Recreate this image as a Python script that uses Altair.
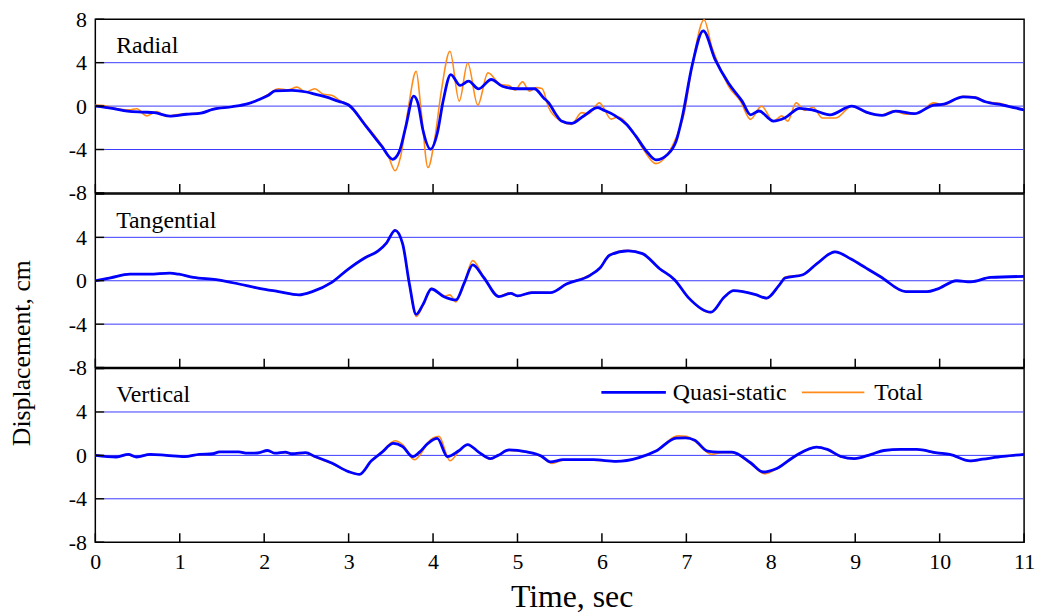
import altair as alt
import pandas as pd

FONT = "Liberation Serif"
BLUE = "#0000ff"
ORANGE = "#ff8c1a"
GRID = "#3a3aff"

panel_names = ["Radial", "Tangential", "Vertical"]
series_names = ["Quasi-static", "Total"]
x_ticks = list(range(0, 12))
y_ticks = [-8, -4, 0, 4, 8]
grid_vals = [-4, 0, 4]

# ---------------- Radial ----------------
radial_qs_t = [0, 0.2, 0.38, 0.55, 0.7, 0.88, 1.08, 1.25, 1.39, 1.62, 1.8, 1.94, 2.05, 2.13, 2.33, 2.5,
               2.6, 2.75, 2.84, 2.92, 3.0, 3.2, 3.39, 3.52, 3.6, 3.68, 3.77, 3.82, 3.88, 3.97, 4.05,
               4.12, 4.21, 4.32, 4.42, 4.54, 4.69, 4.82, 5.0, 5.2, 5.31, 5.37, 5.45, 5.52, 5.64, 5.78,
               5.95, 6.03, 6.15, 6.29, 6.4, 6.54, 6.64, 6.78, 6.88, 6.95, 7.07, 7.2, 7.34, 7.5, 7.66,
               7.76, 7.86, 8.03, 8.17, 8.34, 8.5, 8.7, 8.96, 9.13, 9.32, 9.48, 9.7, 9.93, 10.03,
               10.28, 10.42, 10.54, 10.75, 11.0]
radial_qs_v = [0, -0.2, -0.46, -0.55, -0.6, -0.92, -0.75, -0.65, -0.3, -0.06, 0.2, 0.6, 1.0, 1.4, 1.45, 1.3,
               1.1, 0.8, 0.55, 0.35, 0.1, -1.8, -3.67, -4.9, -4.2, -1.8, 0.92, 0.3, -2.2, -3.97, -2.5,
               0.5, 2.9, 1.9, 2.3, 1.59, 2.45, 1.83, 1.6, 1.6, 0.75, 0.3, -0.7, -1.38, -1.6, -0.93,
               -0.15, -0.4, -0.85, -1.68, -2.75, -4.28, -4.95, -4.43, -3.2, -1.07, 3.8, 6.94, 4.3, 2.1, 0.46,
               -0.8, -0.45, -1.38, -1.07, -0.2, -0.37, -0.8, 0.0, -0.55, -0.85, -0.46, -0.7, 0.1, 0.15,
               0.85, 0.78, 0.4, 0.1, -0.35]
radial_tot_t = [0, 0.1, 0.3, 0.4, 0.49, 0.61, 0.73, 0.84, 0.95, 1.1, 1.25, 1.4, 1.62, 1.8, 1.94, 2.05,
                2.17, 2.28, 2.39, 2.49, 2.6, 2.7, 2.8, 2.9, 3.0, 3.2, 3.39, 3.47, 3.55, 3.62, 3.7, 3.8,
                3.86, 3.94, 4.02, 4.1, 4.2, 4.31, 4.41, 4.53, 4.65, 4.8, 4.9, 4.97, 5.06, 5.14, 5.22,
                5.29, 5.37, 5.5, 5.64, 5.76, 5.84, 5.97, 6.11, 6.19, 6.37, 6.5, 6.64, 6.78, 6.88, 6.97,
                7.08, 7.21, 7.3, 7.38, 7.5, 7.64, 7.76, 7.89, 8.03, 8.13, 8.2, 8.3, 8.4, 8.5, 8.61, 8.77,
                8.96, 9.13, 9.3, 9.45, 9.6, 9.75, 9.93, 10.05, 10.28, 10.42, 10.55, 10.75, 10.9, 11.0]
radial_tot_v = [0.1, 0.05, -0.3, -0.35, -0.25, -0.9, -0.5, -0.95, -0.8, -0.7, -0.65, -0.25, -0.05, 0.2, 0.6, 1.1,
                1.6, 1.5, 1.75, 1.3, 1.6, 1.1, 1.0, 0.5, 0.15, -1.7, -3.6, -4.6, -5.96, -4.5, -0.5, 3.2,
                -0.5, -5.66, -3.0, 1.5, 5.05, 0.46, 3.97, 0.09, 3.06, 2.0, 1.9, 1.47, 2.23, 1.38, 1.7,
                1.62, -0.15, -1.3, -1.68, -0.6, -0.7, 0.3, -1.2, -1.0, -2.45, -4.1, -5.3, -4.4, -2.9, -0.8,
                4.2, 7.96, 5.5, 3.85, 1.83, 0.46, -1.22, 0.0, -1.4, -0.9, -1.4, 0.3, -0.4, -0.1, -1.1, -1.1,
                0.0, -0.6, -0.85, -0.45, -0.75, -0.65, 0.3, 0.1, 0.9, 0.85, 0.4, 0.2, -0.2, -0.25]

# ---------------- Tangential ----------------
tang_qs_t = [0, 0.18, 0.41, 0.64, 0.88, 0.99, 1.16, 1.43, 1.7, 1.94, 2.17, 2.41, 2.57, 2.8, 3.0, 3.19,
             3.35, 3.45, 3.55, 3.64, 3.72, 3.8, 3.88, 3.98, 4.13, 4.27, 4.37, 4.47, 4.6, 4.78, 4.92, 5.0,
             5.17, 5.39, 5.58, 5.86, 5.98, 6.09, 6.31, 6.48, 6.68, 6.86, 7.03, 7.29, 7.45, 7.56, 7.82,
             7.95, 8.1, 8.17, 8.38, 8.55, 8.76, 8.95, 9.13, 9.3, 9.6, 9.85, 9.97, 10.2, 10.37, 10.6, 11.0]
tang_qs_v = [0, 0.27, 0.6, 0.6, 0.7, 0.6, 0.3, 0.1, -0.3, -0.7, -1.0, -1.3, -1.0, -0.15, 1.1, 2.1,
             2.75, 3.5, 4.65, 3.4, -0.3, -3.1, -2.2, -0.76, -1.47, -1.77, -0.2, 1.47, 0.3, -1.47, -1.16, -1.4,
             -1.1, -1.1, -0.3, 0.5, 1.2, 2.35, 2.75, 2.5, 1.13, 0.1, -1.6, -2.9, -1.5, -0.92, -1.28,
             -1.6, -0.4, 0.25, 0.55, 1.6, 2.66, 2.0, 1.16, 0.37, -1.0, -1.0, -0.77, 0.0, -0.1, 0.3, 0.4]
tang_tot_t = [0, 0.18, 0.41, 0.64, 0.88, 0.99, 1.16, 1.43, 1.7, 1.94, 2.17, 2.41, 2.57, 2.8, 3.0, 3.19,
              3.35, 3.45, 3.55, 3.64, 3.72, 3.8, 3.88, 3.98, 4.13, 4.2, 4.27, 4.37, 4.47, 4.6, 4.78, 4.92,
              5.0, 5.17, 5.39, 5.58, 5.86, 5.98, 6.09, 6.31, 6.48, 6.68, 6.86, 7.03, 7.29, 7.45, 7.56,
              7.82, 7.95, 8.1, 8.17, 8.38, 8.55, 8.76, 8.95, 9.13, 9.3, 9.6, 9.85, 9.97, 10.2, 10.37, 10.6, 11.0]
tang_tot_v = [0, 0.3, 0.62, 0.62, 0.72, 0.6, 0.32, 0.1, -0.3, -0.72, -1.0, -1.32, -1.0, -0.15, 1.1, 2.15,
              2.75, 3.5, 4.7, 3.4, -0.4, -3.3, -2.3, -0.7, -1.4, -1.3, -1.95, -0.2, 1.85, 0.35, -1.4, -1.1,
              -1.45, -1.05, -1.1, -0.3, 0.55, 1.2, 2.4, 2.8, 2.5, 1.13, 0.1, -1.6, -2.95, -1.5, -0.9,
              -1.25, -1.65, -0.4, 0.35, 0.55, 1.6, 2.7, 2.0, 1.16, 0.37, -1.0, -1.0, -0.77, 0.0, -0.1, 0.3, 0.4]

# ---------------- Vertical ----------------
vert_qs_t = [0, 0.25, 0.39, 0.49, 0.65, 0.84, 1.06, 1.23, 1.39, 1.47, 1.7, 1.8, 1.92, 2.04, 2.13, 2.25,
             2.33, 2.49, 2.6, 2.8, 3.0, 3.13, 3.27, 3.39, 3.53, 3.64, 3.76, 3.84, 3.94, 4.05, 4.17, 4.3,
             4.41, 4.54, 4.68, 4.77, 4.9, 5.11, 5.28, 5.39, 5.54, 5.9, 6.17, 6.44, 6.64, 6.88, 6.99, 7.1,
             7.25, 7.38, 7.54, 7.76, 7.91, 8.07, 8.29, 8.54, 8.67, 8.83, 8.99, 9.19, 9.34, 9.54, 9.73,
             9.97, 10.12, 10.36, 10.51, 10.75, 11.0]
vert_qs_v = [0, -0.15, 0.1, -0.15, 0.1, 0.0, -0.12, 0.1, 0.15, 0.32, 0.32, 0.2, 0.22, 0.45, 0.2, 0.3,
             0.15, 0.25, -0.1, -0.7, -1.5, -1.75, -0.5, 0.25, 1.1, 0.8, -0.12, 0.3, 1.1, 1.56, -0.12, 0.4,
             1.0, 0.3, -0.3, 0.0, 0.5, 0.32, -0.05, -0.6, -0.4, -0.4, -0.55, -0.2, 0.4, 1.6, 1.62, 1.4,
             0.4, 0.3, 0.3, -0.68, -1.53, -1.2, -0.05, 0.77, 0.55, -0.1, -0.3, 0.1, 0.45, 0.55, 0.55,
             0.23, 0.1, -0.5, -0.35, -0.1, 0.1]
vert_tot_t = [0, 0.25, 0.39, 0.49, 0.65, 0.84, 1.06, 1.23, 1.39, 1.47, 1.7, 1.8, 1.92, 2.04, 2.13, 2.25,
              2.33, 2.49, 2.6, 2.8, 3.0, 3.13, 3.27, 3.39, 3.55, 3.64, 3.78, 3.86, 3.94, 4.07, 4.2, 4.3,
              4.41, 4.54, 4.68, 4.77, 4.9, 5.11, 5.28, 5.41, 5.54, 5.9, 6.17, 6.44, 6.64, 6.9, 7.0, 7.1,
              7.3, 7.42, 7.54, 7.76, 7.93, 8.07, 8.29, 8.54, 8.67, 8.83, 8.99, 9.19, 9.34, 9.54, 9.73,
              9.97, 10.12, 10.38, 10.51, 10.75, 11.0]
vert_tot_v = [0, -0.12, 0.05, -0.15, 0.1, 0.0, -0.1, 0.05, 0.15, 0.3, 0.3, 0.22, 0.2, 0.4, 0.2, 0.25,
              0.1, 0.2, -0.15, -0.75, -1.5, -1.75, -0.5, 0.3, 1.35, 1.0, -0.4, 0.2, 1.2, 1.75, -0.5, 0.3,
              1.0, 0.3, -0.35, 0.0, 0.45, 0.3, -0.1, -0.75, -0.45, -0.45, -0.55, -0.2, 0.4, 1.8, 1.75, 1.3,
              0.1, 0.25, 0.25, -0.75, -1.7, -1.25, -0.1, 0.75, 0.55, -0.15, -0.3, 0.1, 0.45, 0.55, 0.55,
              0.2, 0.1, -0.55, -0.35, -0.1, 0.1]

panels_data = [
    (radial_qs_t, radial_qs_v, radial_tot_t, radial_tot_v),
    (tang_qs_t, tang_qs_v, tang_tot_t, tang_tot_v),
    (vert_qs_t, vert_qs_v, vert_tot_t, vert_tot_v),
]

W, H = 936, 175


def make_panel(i):
    tq, vq, tt, vt = panels_data[i]
    xs = alt.Scale(domain=[0, 11], nice=False, zero=False)
    ys = alt.Scale(domain=[-8, 8], nice=False, zero=False)
    last = i == 2

    if last:
        xaxis = alt.Axis(values=x_ticks, ticks=False, tickSize=0, domain=False, grid=False,
                         labelFont=FONT, labelFontSize=22, labelColor="black", labelPadding=10,
                         labelFlush=False, labelOverlap=False,
                         title="Time, sec", titleFont=FONT, titleFontSize=32, titleFontWeight="normal",
                         titleColor="black", titleX=480, titleY=65, titleBaseline="alphabetic")
    else:
        xaxis = None

    yaxis_kw = dict(values=y_ticks, ticks=False, tickSize=0, domain=False, grid=False,
                    labelFont=FONT, labelFontSize=22, labelColor="black", labelPadding=9,
                    labelFlush=False, labelOverlap=False)
    if i > 0:
        yaxis_kw["labelExpr"] = "datum.value == 8 ? '' : '' + datum.value"
    else:
        yaxis_kw["labelExpr"] = "'' + datum.value"
    if i == 1:
        yaxis_kw.update(title="Displacement, cm", titleFont=FONT, titleFontSize=26,
                        titleFontWeight="normal", titleColor="black", titleX=-66, titleY=160,
                        titleAlign="center", titleBaseline="alphabetic", titleAngle=270)
    else:
        yaxis_kw["title"] = None

    def X(field):
        return alt.X(field, scale=xs, axis=xaxis)

    def Y(field):
        return alt.Y(field, scale=ys, axis=alt.Axis(**yaxis_kw))

    grid = alt.Chart(pd.DataFrame({"v": grid_vals})).mark_rule(color=GRID, strokeWidth=1).encode(
        y=Y("v:Q"), x=alt.value(9), x2=alt.value(W))
    ytk = alt.Chart(pd.DataFrame({"v": y_ticks})).mark_rule(color="black", strokeWidth=1.5).encode(
        y=Y("v:Q"), x=alt.value(0), x2=alt.value(9))
    xtk = alt.Chart(pd.DataFrame({"t": x_ticks})).mark_rule(color="black", strokeWidth=1.5).encode(
        x=X("t:Q"), y=alt.value(H - 9), y2=alt.value(H))

    tot = alt.Chart(pd.DataFrame({"t": tt, "v": vt})).mark_line(
        color=ORANGE, strokeWidth=1.6, interpolate="monotone").encode(x=X("t:Q"), y=Y("v:Q"))
    qs = alt.Chart(pd.DataFrame({"t": tq, "v": vq})).mark_line(
        color=BLUE, strokeWidth=2.8, interpolate="monotone").encode(x=X("t:Q"), y=Y("v:Q"))

    label = alt.Chart(pd.DataFrame({"label": [panel_names[i]]})).mark_text(
        align="left", baseline="alphabetic", font=FONT, fontSize=24, color="black").encode(
        x=alt.value(21), y=alt.value(34), text="label:N")

    layers = [grid, tot, qs, ytk, xtk, label]

    if last:
        leg_qs_line = alt.Chart(pd.DataFrame({"label": [series_names[0]]})).mark_rule(
            color=BLUE, strokeWidth=2.8).encode(x=alt.value(510), x2=alt.value(575), y=alt.value(24))
        leg_qs_text = alt.Chart(pd.DataFrame({"label": [series_names[0]]})).mark_text(
            align="left", baseline="alphabetic", font=FONT, fontSize=24, color="black").encode(
            x=alt.value(582), y=alt.value(32), text="label:N")
        leg_tot_line = alt.Chart(pd.DataFrame({"label": [series_names[1]]})).mark_rule(
            color=ORANGE, strokeWidth=1.8).encode(x=alt.value(712), x2=alt.value(775), y=alt.value(24))
        leg_tot_text = alt.Chart(pd.DataFrame({"label": [series_names[1]]})).mark_text(
            align="left", baseline="alphabetic", font=FONT, fontSize=24, color="black").encode(
            x=alt.value(785), y=alt.value(32), text="label:N")
        layers += [leg_qs_line, leg_qs_text, leg_tot_line, leg_tot_text]

    return alt.layer(*layers).properties(width=W, height=H)


chart = alt.vconcat(make_panel(0), make_panel(1), make_panel(2), spacing=1, bounds="flush").properties(
    padding={"left": 0, "top": -3, "right": 0, "bottom": 0}, background="white"
).configure_view(stroke="black", strokeWidth=1.5)

chart.save("out.html", embed_options={"renderer": "svg", "actions": False})
